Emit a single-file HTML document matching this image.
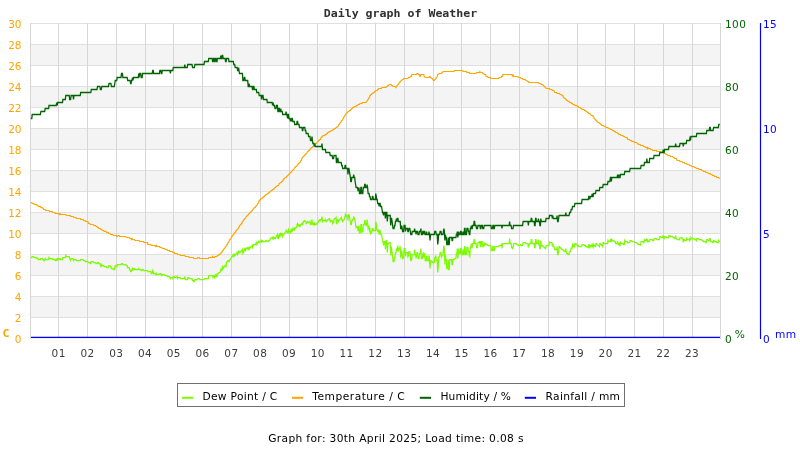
<!DOCTYPE html>
<html><head><meta charset="utf-8"><title>Daily graph of Weather</title>
<style>
html,body{margin:0;padding:0;background:#fff}
svg{display:block}
text{font-family:"DejaVu Sans","Liberation Sans",sans-serif}
.m{font-family:"DejaVu Sans Mono","Liberation Mono",monospace;font-weight:bold}
</style></head><body>
<svg width="800" height="450" viewBox="0 0 800 450">
<rect width="800" height="450" fill="#fff"/>
<g shape-rendering="crispEdges">
<rect x="31" y="45" width="689" height="20" fill="#f4f4f4"/>
<rect x="31" y="87" width="689" height="20" fill="#f4f4f4"/>
<rect x="31" y="129" width="689" height="20" fill="#f4f4f4"/>
<rect x="31" y="171" width="689" height="20" fill="#f4f4f4"/>
<rect x="31" y="213" width="689" height="20" fill="#f4f4f4"/>
<rect x="31" y="255" width="689" height="20" fill="#f4f4f4"/>
<rect x="31" y="297" width="689" height="20" fill="#f4f4f4"/>
<rect x="30" y="23" width="691" height="1" fill="#e0e0e0"/>
<rect x="30" y="44" width="691" height="1" fill="#e0e0e0"/>
<rect x="30" y="65" width="691" height="1" fill="#e0e0e0"/>
<rect x="30" y="86" width="691" height="1" fill="#e0e0e0"/>
<rect x="30" y="107" width="691" height="1" fill="#e0e0e0"/>
<rect x="30" y="128" width="691" height="1" fill="#e0e0e0"/>
<rect x="30" y="149" width="691" height="1" fill="#e0e0e0"/>
<rect x="30" y="170" width="691" height="1" fill="#e0e0e0"/>
<rect x="30" y="191" width="691" height="1" fill="#e0e0e0"/>
<rect x="30" y="212" width="691" height="1" fill="#e0e0e0"/>
<rect x="30" y="233" width="691" height="1" fill="#e0e0e0"/>
<rect x="30" y="254" width="691" height="1" fill="#e0e0e0"/>
<rect x="30" y="275" width="691" height="1" fill="#e0e0e0"/>
<rect x="30" y="296" width="691" height="1" fill="#e0e0e0"/>
<rect x="30" y="317" width="691" height="1" fill="#e0e0e0"/>
<rect x="30" y="338" width="691" height="1" fill="#e0e0e0"/>
<rect x="30" y="23" width="1" height="316" fill="#d6d6d6"/>
<rect x="58" y="23" width="1" height="316" fill="#d6d6d6"/>
<rect x="87" y="23" width="1" height="316" fill="#d6d6d6"/>
<rect x="116" y="23" width="1" height="316" fill="#d6d6d6"/>
<rect x="145" y="23" width="1" height="316" fill="#d6d6d6"/>
<rect x="173" y="23" width="1" height="316" fill="#d6d6d6"/>
<rect x="202" y="23" width="1" height="316" fill="#d6d6d6"/>
<rect x="231" y="23" width="1" height="316" fill="#d6d6d6"/>
<rect x="260" y="23" width="1" height="316" fill="#d6d6d6"/>
<rect x="289" y="23" width="1" height="316" fill="#d6d6d6"/>
<rect x="317" y="23" width="1" height="316" fill="#d6d6d6"/>
<rect x="346" y="23" width="1" height="316" fill="#d6d6d6"/>
<rect x="375" y="23" width="1" height="316" fill="#d6d6d6"/>
<rect x="404" y="23" width="1" height="316" fill="#d6d6d6"/>
<rect x="433" y="23" width="1" height="316" fill="#d6d6d6"/>
<rect x="461" y="23" width="1" height="316" fill="#d6d6d6"/>
<rect x="490" y="23" width="1" height="316" fill="#d6d6d6"/>
<rect x="519" y="23" width="1" height="316" fill="#d6d6d6"/>
<rect x="548" y="23" width="1" height="316" fill="#d6d6d6"/>
<rect x="577" y="23" width="1" height="316" fill="#d6d6d6"/>
<rect x="605" y="23" width="1" height="316" fill="#d6d6d6"/>
<rect x="634" y="23" width="1" height="316" fill="#d6d6d6"/>
<rect x="663" y="23" width="1" height="316" fill="#d6d6d6"/>
<rect x="692" y="23" width="1" height="316" fill="#d6d6d6"/>
<rect x="720" y="23" width="1" height="316" fill="#d6d6d6"/>
</g>
<polyline fill="none" stroke="#7cfc00" stroke-width="1.25" stroke-linejoin="miter" points="30.8,257.5 31.8,257.5 32.2,256.5 33.7,256.5 34.2,257.5 36.6,257.5 37.0,258.5 38.0,258.5 38.5,259.5 40.4,259.5 40.9,258.5 42.3,258.5 42.8,259.5 43.3,259.5 43.8,260.5 44.7,260.5 45.2,258.5 45.7,259.5 48.6,259.5 49.0,257.5 49.5,258.5 52.4,258.5 52.9,259.5 54.8,259.5 55.3,260.5 56.2,260.5 56.7,258.5 57.2,260.5 57.7,258.5 58.6,258.5 59.1,259.5 59.6,258.5 60.1,258.5 60.5,259.5 62.5,259.5 62.9,257.5 65.3,257.5 65.8,255.5 66.3,256.5 69.2,256.5 69.7,258.5 70.1,259.5 70.6,260.5 71.1,258.5 73.0,258.5 73.5,260.5 74.0,259.5 75.9,259.5 76.4,260.5 80.2,260.5 80.7,259.5 83.1,259.5 83.6,260.5 85.0,260.5 85.5,261.5 87.9,261.5 88.4,262.5 89.8,262.5 90.3,263.5 90.8,263.5 91.3,261.5 93.2,261.5 93.7,262.5 95.6,262.5 96.1,263.5 97.0,263.5 97.5,262.5 98.5,262.5 98.9,263.5 99.9,263.5 100.4,265.5 100.9,266.5 101.3,266.5 101.8,264.5 102.3,265.5 103.7,265.5 104.2,266.5 106.1,266.5 106.6,267.5 108.0,267.5 108.5,266.5 109.0,265.5 110.0,265.5 110.4,266.5 110.9,266.5 111.4,268.5 112.8,268.5 113.3,269.5 114.3,269.5 114.8,267.5 115.2,265.5 116.2,265.5 116.7,266.5 117.2,264.5 121.0,264.5 121.5,263.5 122.4,263.5 122.9,264.5 125.8,264.5 126.3,265.5 127.2,265.5 127.7,267.5 129.2,267.5 129.6,269.5 130.1,269.5 130.6,271.5 131.1,271.5 131.6,270.5 132.0,269.5 132.5,268.5 133.0,270.5 133.5,268.5 134.4,268.5 134.9,269.5 138.3,269.5 138.8,268.5 139.2,269.5 140.7,269.5 141.2,270.5 142.1,270.5 142.6,269.5 143.6,269.5 144.0,270.5 147.4,270.5 147.9,271.5 150.8,271.5 151.2,273.5 152.2,273.5 152.7,270.5 153.2,271.5 153.6,273.5 155.1,273.5 155.5,274.5 156.0,274.5 156.5,273.5 157.0,274.5 159.4,274.5 159.9,273.5 160.8,273.5 161.3,275.5 161.8,275.5 162.3,274.5 164.7,274.5 165.1,275.5 167.1,275.5 167.5,276.5 169.5,276.5 169.9,277.5 170.4,278.5 170.9,277.5 172.3,277.5 172.8,278.5 173.3,276.5 174.3,276.5 174.7,277.5 176.7,277.5 177.1,276.5 177.6,278.5 178.1,277.5 180.0,277.5 180.5,278.5 184.3,278.5 184.8,276.5 185.3,279.5 187.2,279.5 187.7,277.5 188.7,277.5 189.1,278.5 192.0,278.5 192.5,280.5 193.5,280.5 193.9,281.5 194.4,281.5 194.9,279.5 197.3,279.5 197.8,278.5 199.2,278.5 199.7,279.5 204.0,279.5 204.5,278.5 208.3,278.5 208.8,275.5 212.2,275.5 212.6,276.5 213.1,277.5 213.6,275.5 214.1,275.5 214.6,277.5 215.0,276.5 215.5,274.5 216.0,274.5 216.5,276.5 217.0,276.5 217.4,273.5 218.4,273.5 218.9,272.5 219.8,272.5 220.3,271.5 220.8,269.5 221.3,270.5 221.8,270.5 222.2,267.5 222.7,266.5 223.2,268.5 223.7,267.5 224.2,266.5 224.6,266.5 225.1,265.5 225.6,266.5 226.1,266.5 226.6,262.5 227.0,261.5 227.5,261.5 228.0,260.5 228.5,260.5 229.0,261.5 229.4,260.5 229.9,259.5 230.4,259.5 230.9,258.5 231.4,257.5 231.8,256.5 232.3,256.5 232.8,255.5 233.3,254.5 233.8,256.5 234.2,255.5 234.7,254.5 235.2,255.5 235.7,254.5 236.2,253.5 236.6,253.5 237.1,252.5 237.6,254.5 238.1,253.5 238.6,250.5 239.0,252.5 240.0,252.5 240.5,251.5 241.0,251.5 241.4,250.5 241.9,250.5 242.4,249.5 242.9,253.5 243.4,252.5 243.8,251.5 244.3,249.5 244.8,248.5 245.3,250.5 245.8,249.5 246.2,248.5 246.7,248.5 247.2,247.5 247.7,247.5 248.2,249.5 248.6,249.5 249.1,247.5 249.6,248.5 250.1,247.5 250.6,247.5 251.0,246.5 251.5,246.5 252.0,245.5 252.5,247.5 252.9,246.5 253.4,244.5 255.3,244.5 255.8,243.5 256.3,242.5 256.8,244.5 257.3,243.5 257.7,242.5 258.2,242.5 258.7,241.5 259.2,242.5 259.7,242.5 260.1,241.5 260.6,241.5 261.1,240.5 261.6,242.5 262.1,240.5 262.5,240.5 263.0,241.5 265.4,241.5 265.9,240.5 266.9,240.5 267.3,241.5 268.3,241.5 268.8,240.5 269.7,240.5 270.2,238.5 270.7,238.5 271.2,237.5 272.1,237.5 272.6,238.5 273.1,236.5 273.6,238.5 274.1,237.5 274.5,237.5 275.0,238.5 275.5,238.5 276.0,237.5 276.5,235.5 276.9,235.5 277.4,234.5 277.9,238.5 278.4,238.5 278.9,235.5 279.3,234.5 279.8,236.5 280.3,235.5 280.8,232.5 281.3,235.5 281.7,233.5 282.2,233.5 282.7,236.5 283.2,235.5 283.7,234.5 284.1,233.5 284.6,233.5 285.1,232.5 285.6,232.5 286.1,230.5 286.5,231.5 287.0,231.5 287.5,232.5 288.0,230.5 288.5,229.5 288.9,232.5 289.4,231.5 289.9,231.5 290.4,232.5 290.9,230.5 291.3,231.5 291.8,229.5 292.3,228.5 292.8,230.5 293.3,229.5 293.7,229.5 294.2,227.5 294.7,229.5 295.2,228.5 295.7,227.5 296.6,227.5 297.1,224.5 297.6,223.5 298.1,225.5 298.5,224.5 299.0,224.5 299.5,226.5 300.0,226.5 300.5,225.5 300.9,224.5 301.4,224.5 301.9,223.5 302.4,224.5 302.8,224.5 303.3,221.5 303.8,221.5 304.3,220.5 304.8,220.5 305.2,221.5 305.7,221.5 306.2,223.5 306.7,223.5 307.2,222.5 307.6,221.5 308.1,221.5 308.6,222.5 309.6,222.5 310.0,221.5 310.5,224.5 311.0,224.5 311.5,223.5 312.0,219.5 312.4,223.5 312.9,224.5 313.4,224.5 313.9,223.5 314.4,225.5 314.8,222.5 315.3,224.5 316.3,224.5 316.8,223.5 317.2,223.5 317.7,222.5 318.2,222.5 318.7,220.5 319.2,220.5 319.6,219.5 320.1,219.5 320.6,220.5 321.1,219.5 321.6,219.5 322.0,216.5 322.5,221.5 323.0,220.5 324.9,220.5 325.4,219.5 325.9,221.5 326.4,221.5 326.8,220.5 327.3,220.5 327.8,219.5 328.8,219.5 329.2,218.5 329.7,218.5 330.2,221.5 330.7,221.5 331.2,220.5 332.1,220.5 332.6,223.5 333.1,222.5 333.6,222.5 334.0,219.5 334.5,218.5 335.5,218.5 336.0,217.5 336.4,223.5 336.9,223.5 337.4,219.5 337.9,219.5 338.4,221.5 338.8,220.5 339.3,220.5 339.8,219.5 340.3,218.5 340.8,218.5 341.2,217.5 341.7,219.5 342.2,219.5 342.7,221.5 343.2,220.5 343.6,220.5 344.1,219.5 344.6,218.5 345.1,215.5 345.6,214.5 346.0,216.5 346.5,216.5 347.0,215.5 347.5,215.5 348.0,220.5 348.4,214.5 348.9,214.5 349.4,216.5 349.9,219.5 350.4,222.5 350.8,224.5 351.3,224.5 351.8,220.5 352.3,220.5 352.7,219.5 353.2,219.5 353.7,216.5 354.2,218.5 354.7,218.5 355.1,221.5 355.6,224.5 356.1,227.5 356.6,226.5 357.5,226.5 358.0,230.5 358.5,230.5 359.0,225.5 359.5,233.5 359.9,232.5 360.4,232.5 360.9,224.5 361.4,224.5 361.9,232.5 362.3,231.5 362.8,231.5 363.3,224.5 364.3,224.5 364.7,220.5 365.2,220.5 365.7,224.5 366.2,225.5 366.7,224.5 367.1,219.5 367.6,223.5 368.1,228.5 368.6,227.5 369.1,226.5 369.5,230.5 370.0,229.5 370.5,233.5 371.0,232.5 371.5,232.5 371.9,231.5 372.4,228.5 372.9,228.5 373.4,230.5 375.3,230.5 375.8,221.5 376.3,224.5 376.7,229.5 377.2,229.5 377.7,231.5 378.2,231.5 378.7,230.5 379.1,234.5 379.6,230.5 380.1,230.5 380.6,234.5 381.5,234.5 382.0,237.5 382.5,240.5 383.0,241.5 383.5,245.5 383.9,241.5 384.9,241.5 385.4,249.5 385.9,241.5 386.3,240.5 386.8,240.5 387.3,252.5 387.8,243.5 388.7,243.5 389.2,242.5 390.2,242.5 390.7,255.5 391.1,246.5 391.6,248.5 392.1,252.5 392.6,256.5 393.1,261.5 394.0,261.5 394.5,257.5 395.0,257.5 395.5,252.5 395.9,253.5 396.4,248.5 396.9,251.5 397.4,247.5 397.9,246.5 398.3,250.5 398.8,249.5 399.3,248.5 399.8,247.5 400.2,246.5 400.7,256.5 401.2,255.5 401.7,250.5 402.2,254.5 402.6,258.5 403.1,258.5 403.6,257.5 404.1,248.5 405.0,248.5 405.5,256.5 406.0,252.5 407.4,252.5 407.9,256.5 408.4,255.5 408.9,251.5 409.8,251.5 410.3,254.5 410.8,260.5 411.3,260.5 411.8,259.5 412.2,254.5 414.2,254.5 414.6,249.5 415.1,254.5 415.6,254.5 416.1,258.5 416.6,254.5 417.0,252.5 417.5,252.5 418.0,257.5 418.5,258.5 419.0,258.5 419.4,253.5 420.4,253.5 420.9,248.5 421.4,258.5 422.3,258.5 422.8,254.5 423.3,253.5 423.8,257.5 424.2,253.5 424.7,253.5 425.2,260.5 426.2,260.5 426.6,255.5 427.1,260.5 428.6,260.5 429.0,255.5 429.5,259.5 430.0,268.5 430.5,260.5 431.0,260.5 431.4,261.5 432.4,261.5 432.9,262.5 434.3,262.5 434.8,257.5 435.3,257.5 435.8,255.5 436.2,260.5 436.7,260.5 437.2,259.5 437.7,272.5 438.2,267.5 438.6,257.5 439.1,256.5 439.6,256.5 440.1,252.5 441.0,252.5 441.5,256.5 442.0,255.5 442.5,255.5 443.0,254.5 443.4,249.5 443.9,245.5 444.4,249.5 444.9,264.5 445.4,254.5 445.8,259.5 446.3,259.5 446.8,268.5 447.8,268.5 448.2,259.5 448.7,269.5 449.2,269.5 449.7,259.5 451.6,259.5 452.1,264.5 452.5,264.5 453.0,259.5 454.0,259.5 454.5,258.5 455.9,258.5 456.4,253.5 456.9,253.5 457.3,248.5 457.8,258.5 458.3,253.5 458.8,248.5 459.3,253.5 460.2,253.5 460.7,248.5 461.2,248.5 461.7,254.5 462.6,254.5 463.1,249.5 463.6,254.5 464.1,254.5 464.5,246.5 465.0,246.5 465.5,254.5 466.5,254.5 466.9,247.5 467.9,247.5 468.4,251.5 468.9,251.5 469.3,255.5 469.8,256.5 470.3,247.5 470.8,247.5 471.3,243.5 471.7,247.5 472.2,247.5 472.7,243.5 473.7,243.5 474.1,239.5 474.6,239.5 475.1,243.5 476.1,243.5 476.5,247.5 477.5,247.5 478.0,242.5 478.9,242.5 479.4,241.5 479.9,241.5 480.4,246.5 480.9,246.5 481.3,241.5 482.3,241.5 482.8,246.5 483.7,246.5 484.2,243.5 484.7,244.5 485.2,243.5 485.7,243.5 486.1,244.5 487.6,244.5 488.1,245.5 490.5,245.5 490.9,246.5 491.4,250.5 492.4,250.5 492.9,246.5 493.3,246.5 493.8,250.5 494.3,250.5 494.8,246.5 498.6,246.5 499.1,245.5 501.0,245.5 501.5,244.5 502.0,248.5 502.4,244.5 502.9,243.5 509.2,243.5 509.6,238.5 510.1,243.5 511.1,243.5 511.6,247.5 512.0,247.5 512.5,248.5 513.0,247.5 513.5,244.5 514.0,243.5 516.4,243.5 516.8,244.5 517.8,244.5 518.3,245.5 519.7,245.5 520.2,244.5 520.7,244.5 521.2,245.5 522.6,245.5 523.1,242.5 525.5,242.5 526.0,243.5 527.9,243.5 528.4,247.5 528.8,244.5 529.3,244.5 529.8,243.5 530.8,243.5 531.2,239.5 531.7,239.5 532.2,243.5 534.1,243.5 534.6,247.5 535.1,247.5 535.6,239.5 536.0,239.5 536.5,243.5 538.0,243.5 538.4,239.5 538.9,244.5 539.4,244.5 539.9,248.5 540.4,248.5 540.8,240.5 541.3,245.5 542.8,245.5 543.2,246.5 543.7,246.5 544.2,247.5 544.7,247.5 545.2,248.5 545.6,248.5 546.1,245.5 549.0,245.5 549.5,241.5 549.9,242.5 551.9,242.5 552.3,246.5 552.8,243.5 553.3,246.5 553.8,246.5 554.3,247.5 554.7,249.5 556.7,249.5 557.1,246.5 557.6,254.5 558.1,254.5 558.6,250.5 559.1,246.5 559.5,246.5 560.0,247.5 560.5,247.5 561.0,248.5 561.5,248.5 561.9,249.5 562.9,249.5 563.4,250.5 563.9,250.5 564.3,251.5 565.3,251.5 565.8,248.5 566.3,252.5 566.7,253.5 567.7,253.5 568.2,254.5 569.1,254.5 569.6,251.5 570.6,251.5 571.1,247.5 571.5,248.5 572.0,248.5 572.5,244.5 573.0,245.5 573.5,246.5 573.9,245.5 574.4,246.5 574.9,243.5 575.9,243.5 576.3,244.5 576.8,244.5 577.3,245.5 578.3,245.5 578.7,246.5 581.6,246.5 582.1,244.5 584.0,244.5 584.5,245.5 585.5,245.5 585.9,246.5 586.9,246.5 587.4,247.5 588.3,247.5 588.8,244.5 589.3,244.5 589.8,248.5 590.3,245.5 590.7,245.5 591.2,246.5 591.7,246.5 592.2,243.5 592.7,246.5 593.1,247.5 593.6,244.5 594.1,245.5 594.6,245.5 595.1,246.5 595.5,246.5 596.0,243.5 596.5,243.5 597.0,244.5 597.4,244.5 597.9,245.5 598.9,245.5 599.4,246.5 599.8,243.5 600.3,243.5 600.8,244.5 601.3,244.5 601.8,245.5 602.2,245.5 602.7,246.5 603.2,242.5 603.7,242.5 604.2,243.5 607.5,243.5 608.0,240.5 608.5,241.5 609.9,241.5 610.4,239.5 610.9,239.5 611.4,242.5 611.8,239.5 612.3,240.5 613.8,240.5 614.2,241.5 615.2,241.5 615.7,243.5 617.1,243.5 617.6,241.5 618.1,244.5 618.6,244.5 619.0,242.5 619.5,245.5 620.0,245.5 620.5,242.5 621.0,243.5 622.9,243.5 623.4,244.5 624.3,244.5 624.8,240.5 625.3,241.5 627.2,241.5 627.7,242.5 629.6,242.5 630.1,240.5 631.5,240.5 632.0,241.5 633.9,241.5 634.4,242.5 636.8,242.5 637.3,243.5 637.8,243.5 638.2,244.5 640.2,244.5 640.6,245.5 641.1,241.5 643.0,241.5 643.5,242.5 644.0,242.5 644.5,239.5 645.0,239.5 645.4,240.5 646.4,240.5 646.9,238.5 647.3,241.5 647.8,240.5 648.3,241.5 649.3,241.5 649.7,239.5 652.1,239.5 652.6,240.5 653.6,240.5 654.1,238.5 656.5,238.5 656.9,239.5 659.3,239.5 659.8,236.5 660.8,236.5 661.3,237.5 662.7,237.5 663.2,235.5 663.7,237.5 664.1,238.5 664.6,236.5 665.6,236.5 666.1,237.5 668.5,237.5 668.9,235.5 669.9,235.5 670.4,236.5 672.8,236.5 673.3,237.5 674.2,237.5 674.7,238.5 675.2,238.5 675.7,235.5 676.1,238.5 676.6,238.5 677.1,239.5 679.5,239.5 680.0,237.5 681.9,237.5 682.4,238.5 682.9,238.5 683.3,242.5 683.8,239.5 684.3,239.5 684.8,240.5 686.2,240.5 686.7,238.5 687.2,239.5 689.1,239.5 689.6,240.5 690.1,237.5 690.5,240.5 691.0,237.5 691.5,238.5 693.9,238.5 694.4,239.5 695.8,239.5 696.3,240.5 696.8,238.5 698.7,238.5 699.2,239.5 701.6,239.5 702.0,240.5 703.0,240.5 703.5,241.5 705.4,241.5 705.9,242.5 706.4,242.5 706.8,239.5 707.8,239.5 708.3,240.5 709.2,240.5 709.7,238.5 710.2,238.5 710.7,241.5 712.1,241.5 712.6,242.5 713.1,242.5 713.6,240.5 714.0,240.5 714.5,241.5 716.4,241.5 716.9,242.5 718.4,242.5 718.8,240.5 719.3,241.5 719.8,241.5"/>
<polyline fill="none" stroke="#ffa500" stroke-width="1.2" stroke-linejoin="miter" points="30.8,202.5 31.8,202.5 32.2,203.5 33.7,203.5 34.2,204.5 36.6,204.5 37.0,205.5 38.0,205.5 38.5,206.5 40.4,206.5 40.9,207.5 42.3,207.5 42.8,208.5 43.3,208.5 43.8,209.5 45.2,209.5 45.7,210.5 49.0,210.5 49.5,211.5 52.4,211.5 52.9,212.5 54.8,212.5 55.3,213.5 58.6,213.5 59.1,214.5 59.6,213.5 60.1,213.5 60.5,214.5 65.8,214.5 66.3,215.5 70.1,215.5 70.6,216.5 73.5,216.5 74.0,217.5 75.9,217.5 76.4,218.5 80.2,218.5 80.7,219.5 83.1,219.5 83.6,220.5 85.0,220.5 85.5,221.5 87.9,221.5 88.4,223.5 89.8,223.5 90.3,224.5 93.2,224.5 93.7,225.5 95.6,225.5 96.1,226.5 97.0,226.5 97.5,227.5 98.5,227.5 98.9,228.5 100.4,228.5 100.9,229.5 101.8,229.5 102.3,230.5 103.7,230.5 104.2,231.5 106.1,231.5 106.6,232.5 108.5,232.5 109.0,233.5 110.0,233.5 110.4,234.5 112.8,234.5 113.3,235.5 116.2,235.5 116.7,236.5 117.6,236.5 118.1,235.5 119.1,235.5 119.6,236.5 125.8,236.5 126.3,237.5 129.2,237.5 129.6,238.5 131.1,238.5 131.6,239.5 132.0,238.5 132.5,239.5 134.4,239.5 134.9,240.5 139.2,240.5 139.7,241.5 143.6,241.5 144.0,242.5 147.4,242.5 147.9,244.5 150.8,244.5 151.2,245.5 155.1,245.5 155.5,246.5 156.0,246.5 156.5,245.5 157.0,246.5 159.4,246.5 159.9,247.5 161.8,247.5 162.3,248.5 164.7,248.5 165.1,249.5 167.1,249.5 167.5,250.5 169.5,250.5 169.9,251.5 172.3,251.5 172.8,252.5 174.3,252.5 174.7,253.5 177.1,253.5 177.6,254.5 180.0,254.5 180.5,255.5 184.8,255.5 185.3,256.5 188.7,256.5 189.1,257.5 193.5,257.5 193.9,258.5 197.3,258.5 197.8,257.5 199.2,257.5 199.7,258.5 208.3,258.5 208.8,257.5 212.2,257.5 212.6,256.5 213.1,257.5 214.6,257.5 215.0,256.5 217.0,256.5 217.4,255.5 218.4,255.5 218.9,254.5 219.8,254.5 220.3,253.5 220.8,253.5 221.3,252.5 221.8,252.5 222.2,251.5 222.7,250.5 223.2,250.5 223.7,249.5 224.2,248.5 224.6,248.5 225.1,247.5 225.6,246.5 226.1,246.5 226.6,245.5 227.0,244.5 227.5,244.5 228.0,242.5 228.5,242.5 229.0,241.5 229.4,240.5 229.9,239.5 230.4,239.5 230.9,238.5 231.4,237.5 231.8,236.5 232.3,236.5 232.8,235.5 233.3,234.5 233.8,234.5 234.2,233.5 234.7,232.5 235.2,232.5 235.7,231.5 236.2,230.5 236.6,230.5 237.1,229.5 237.6,229.5 238.1,228.5 238.6,227.5 239.0,227.5 239.5,225.5 240.0,225.5 240.5,224.5 241.0,224.5 241.4,223.5 241.9,223.5 242.4,221.5 242.9,221.5 243.4,220.5 243.8,219.5 244.3,219.5 244.8,218.5 245.3,218.5 245.8,217.5 246.2,216.5 246.7,216.5 247.2,215.5 247.7,215.5 248.2,214.5 248.6,214.5 249.1,213.5 249.6,213.5 250.1,212.5 250.6,212.5 251.0,211.5 251.5,211.5 252.0,210.5 252.5,210.5 252.9,209.5 253.4,208.5 253.9,208.5 254.4,207.5 255.3,207.5 255.8,206.5 256.3,205.5 256.8,205.5 257.3,204.5 257.7,203.5 258.2,203.5 258.7,202.5 259.2,200.5 259.7,200.5 260.1,199.5 260.6,199.5 261.1,198.5 262.1,198.5 262.5,197.5 263.0,197.5 263.5,196.5 264.5,196.5 264.9,195.5 265.4,195.5 265.9,194.5 266.9,194.5 267.3,193.5 268.3,193.5 268.8,192.5 269.7,192.5 270.2,191.5 270.7,191.5 271.2,190.5 272.1,190.5 272.6,189.5 273.6,189.5 274.1,188.5 274.5,188.5 275.0,187.5 275.5,187.5 276.0,186.5 276.9,186.5 277.4,185.5 278.4,185.5 278.9,184.5 279.3,183.5 279.8,183.5 280.3,182.5 281.3,182.5 281.7,181.5 282.7,181.5 283.2,179.5 283.7,179.5 284.1,178.5 284.6,178.5 285.1,177.5 286.1,177.5 286.5,176.5 287.0,176.5 287.5,175.5 288.0,175.5 288.5,174.5 288.9,174.5 289.4,173.5 289.9,173.5 290.4,172.5 290.9,172.5 291.3,171.5 291.8,171.5 292.3,170.5 292.8,170.5 293.3,169.5 293.7,169.5 294.2,168.5 294.7,167.5 295.2,167.5 295.7,166.5 296.6,166.5 297.1,165.5 297.6,164.5 298.1,164.5 298.5,163.5 299.0,163.5 299.5,162.5 300.0,162.5 300.5,161.5 300.9,160.5 301.4,160.5 301.9,158.5 302.4,157.5 302.8,157.5 303.3,156.5 303.8,156.5 304.3,155.5 304.8,155.5 305.2,154.5 305.7,154.5 306.2,153.5 306.7,153.5 307.2,152.5 307.6,151.5 308.1,151.5 308.6,150.5 309.6,150.5 310.0,149.5 310.5,148.5 311.0,148.5 311.5,147.5 312.4,147.5 312.9,146.5 313.4,146.5 313.9,145.5 314.4,144.5 314.8,144.5 315.3,143.5 316.3,143.5 316.8,142.5 317.2,142.5 317.7,141.5 318.2,141.5 318.7,140.5 319.2,140.5 319.6,139.5 320.6,139.5 321.1,137.5 321.6,137.5 322.0,136.5 322.5,136.5 323.0,135.5 324.9,135.5 325.4,134.5 326.4,134.5 326.8,133.5 327.3,133.5 327.8,132.5 328.8,132.5 329.2,131.5 330.7,131.5 331.2,130.5 332.6,130.5 333.1,129.5 334.0,129.5 334.5,128.5 335.5,128.5 336.0,127.5 336.9,127.5 337.4,126.5 337.9,126.5 338.4,125.5 338.8,124.5 339.3,124.5 339.8,123.5 340.3,122.5 340.8,122.5 341.2,121.5 341.7,120.5 342.2,120.5 342.7,119.5 343.2,118.5 343.6,118.5 344.1,116.5 344.6,115.5 345.1,115.5 345.6,114.5 346.0,113.5 346.5,113.5 347.0,112.5 347.5,112.5 348.0,111.5 348.9,111.5 349.4,110.5 350.4,110.5 350.8,109.5 351.3,109.5 351.8,108.5 352.3,108.5 352.7,107.5 353.7,107.5 354.2,106.5 356.1,106.5 356.6,105.5 357.5,105.5 358.0,104.5 359.5,104.5 359.9,103.5 361.9,103.5 362.3,102.5 366.2,102.5 366.7,101.5 367.1,100.5 367.6,100.5 368.1,99.5 368.6,98.5 369.1,97.5 369.5,97.5 370.0,95.5 370.5,95.5 371.0,94.5 371.5,94.5 371.9,93.5 372.9,93.5 373.4,92.5 374.3,92.5 374.8,91.5 375.3,91.5 375.8,90.5 377.2,90.5 377.7,89.5 378.2,89.5 378.7,88.5 381.5,88.5 382.0,87.5 385.9,87.5 386.3,86.5 387.3,86.5 387.8,85.5 388.7,85.5 389.2,84.5 391.1,84.5 391.6,85.5 392.6,85.5 393.1,86.5 395.5,86.5 395.9,87.5 396.4,86.5 396.9,85.5 397.4,85.5 397.9,84.5 398.3,84.5 398.8,83.5 399.3,82.5 399.8,82.5 400.2,81.5 400.7,81.5 401.2,80.5 401.7,80.5 402.2,79.5 403.1,79.5 403.6,78.5 407.9,78.5 408.4,77.5 409.8,77.5 410.3,76.5 411.3,76.5 411.8,74.5 416.6,74.5 417.0,73.5 418.0,73.5 418.5,74.5 419.4,74.5 419.9,76.5 420.4,76.5 420.9,74.5 423.8,74.5 424.2,76.5 424.7,76.5 425.2,77.5 429.0,77.5 429.5,76.5 430.0,76.5 430.5,77.5 431.0,77.5 431.4,78.5 432.4,78.5 432.9,79.5 433.4,80.5 434.3,80.5 434.8,79.5 435.3,79.5 435.8,78.5 436.2,77.5 436.7,77.5 437.2,76.5 437.7,74.5 438.6,74.5 439.1,73.5 441.5,73.5 442.0,72.5 442.5,72.5 443.0,71.5 454.0,71.5 454.5,70.5 462.6,70.5 463.1,71.5 466.5,71.5 466.9,72.5 469.3,72.5 469.8,73.5 476.1,73.5 476.5,72.5 479.4,72.5 479.9,71.5 480.4,72.5 482.3,72.5 482.8,73.5 483.7,73.5 484.2,74.5 485.7,74.5 486.1,76.5 487.6,76.5 488.1,77.5 490.5,77.5 490.9,78.5 498.6,78.5 499.1,77.5 501.0,77.5 501.5,76.5 502.4,76.5 502.9,74.5 512.0,74.5 512.5,76.5 513.0,74.5 513.5,76.5 517.8,76.5 518.3,77.5 520.7,77.5 521.2,78.5 522.6,78.5 523.1,79.5 525.5,79.5 526.0,80.5 526.9,80.5 527.4,81.5 528.4,81.5 528.8,82.5 538.4,82.5 538.9,83.5 540.8,83.5 541.3,84.5 542.8,84.5 543.2,85.5 543.7,85.5 544.2,86.5 544.7,86.5 545.2,87.5 545.6,87.5 546.1,88.5 549.5,88.5 549.9,89.5 551.9,89.5 552.3,90.5 553.8,90.5 554.3,91.5 554.7,92.5 556.7,92.5 557.1,93.5 559.5,93.5 560.0,94.5 561.5,94.5 561.9,95.5 562.9,95.5 563.4,97.5 563.9,97.5 564.3,98.5 565.3,98.5 565.8,99.5 566.3,99.5 566.7,100.5 567.7,100.5 568.2,101.5 569.1,101.5 569.6,102.5 571.1,102.5 571.5,103.5 572.5,103.5 573.0,104.5 574.4,104.5 574.9,105.5 576.8,105.5 577.3,106.5 578.3,106.5 578.7,107.5 580.2,107.5 580.7,108.5 581.6,108.5 582.1,109.5 584.0,109.5 584.5,110.5 585.5,110.5 585.9,111.5 586.9,111.5 587.4,112.5 588.3,112.5 588.8,113.5 589.8,113.5 590.3,114.5 590.7,114.5 591.2,115.5 592.7,115.5 593.1,116.5 593.6,116.5 594.1,118.5 594.6,118.5 595.1,119.5 595.5,119.5 596.0,120.5 596.5,120.5 597.0,121.5 597.4,121.5 597.9,122.5 598.9,122.5 599.4,123.5 600.3,123.5 600.8,124.5 601.3,124.5 601.8,125.5 603.7,125.5 604.2,126.5 605.6,126.5 606.1,127.5 608.0,127.5 608.5,128.5 609.9,128.5 610.4,129.5 611.8,129.5 612.3,130.5 613.8,130.5 614.2,131.5 615.2,131.5 615.7,132.5 617.1,132.5 617.6,133.5 618.6,133.5 619.0,134.5 620.5,134.5 621.0,135.5 622.9,135.5 623.4,136.5 624.8,136.5 625.3,137.5 627.2,137.5 627.7,139.5 629.6,139.5 630.1,140.5 631.5,140.5 632.0,141.5 633.9,141.5 634.4,142.5 636.8,142.5 637.3,143.5 637.8,143.5 638.2,144.5 640.2,144.5 640.6,145.5 643.0,145.5 643.5,146.5 645.0,146.5 645.4,147.5 646.9,147.5 647.3,148.5 647.8,147.5 648.3,148.5 650.2,148.5 650.7,149.5 652.1,149.5 652.6,150.5 656.5,150.5 656.9,151.5 660.8,151.5 661.3,152.5 663.7,152.5 664.1,153.5 665.6,153.5 666.1,154.5 667.5,154.5 668.0,155.5 669.9,155.5 670.4,156.5 672.8,156.5 673.3,157.5 674.2,157.5 674.7,158.5 676.6,158.5 677.1,160.5 679.5,160.5 680.0,161.5 681.9,161.5 682.4,162.5 684.3,162.5 684.8,163.5 686.7,163.5 687.2,164.5 689.1,164.5 689.6,165.5 691.0,165.5 691.5,166.5 693.9,166.5 694.4,167.5 695.8,167.5 696.3,168.5 698.7,168.5 699.2,169.5 701.6,169.5 702.0,170.5 703.0,170.5 703.5,171.5 705.4,171.5 705.9,172.5 707.8,172.5 708.3,173.5 710.2,173.5 710.7,174.5 712.1,174.5 712.6,175.5 714.0,175.5 714.5,176.5 716.4,176.5 716.9,177.5 718.8,177.5 719.3,178.5 719.8,178.5"/>
<polyline fill="none" stroke="#006400" stroke-width="1.3" stroke-linejoin="miter" points="30.8,118.5 31.8,118.5 32.2,114.5 40.4,114.5 40.9,111.5 44.7,111.5 45.2,108.5 48.6,108.5 49.0,105.5 56.2,105.5 56.7,102.5 57.2,105.5 57.7,102.5 62.5,102.5 62.9,99.5 65.3,99.5 65.8,95.5 69.2,95.5 69.7,99.5 70.6,99.5 71.1,95.5 73.0,95.5 73.5,99.5 74.0,95.5 80.2,95.5 80.7,92.5 90.8,92.5 91.3,89.5 97.0,89.5 97.5,86.5 99.9,86.5 100.4,89.5 101.3,89.5 101.8,86.5 108.5,86.5 109.0,83.5 110.9,83.5 111.4,86.5 114.3,86.5 114.8,83.5 115.2,80.5 116.7,80.5 117.2,77.5 121.0,77.5 121.5,73.5 122.4,73.5 122.9,77.5 127.2,77.5 127.7,80.5 130.1,80.5 130.6,83.5 131.1,83.5 131.6,80.5 132.0,80.5 132.5,77.5 133.0,80.5 133.5,77.5 138.3,77.5 138.8,73.5 139.2,77.5 139.7,73.5 140.7,73.5 141.2,77.5 142.1,77.5 142.6,73.5 152.2,73.5 152.7,70.5 153.2,70.5 153.6,73.5 159.4,73.5 159.9,70.5 160.8,70.5 161.3,73.5 161.8,73.5 162.3,70.5 169.9,70.5 170.4,73.5 170.9,70.5 172.8,70.5 173.3,67.5 184.3,67.5 184.8,64.5 185.3,67.5 187.2,67.5 187.7,64.5 192.0,64.5 192.5,67.5 194.4,67.5 194.9,64.5 204.0,64.5 204.5,61.5 208.3,61.5 208.8,58.5 212.2,58.5 212.6,61.5 213.1,61.5 213.6,58.5 214.1,58.5 214.6,61.5 215.0,61.5 215.5,58.5 216.0,58.5 216.5,61.5 217.0,61.5 217.4,58.5 220.3,58.5 220.8,55.5 221.3,58.5 221.8,58.5 222.2,55.5 222.7,55.5 223.2,58.5 225.1,58.5 225.6,61.5 226.1,61.5 226.6,58.5 228.5,58.5 229.0,61.5 233.3,61.5 233.8,64.5 234.7,64.5 235.2,67.5 237.1,67.5 237.6,70.5 238.1,70.5 238.6,67.5 239.0,70.5 239.5,73.5 242.4,73.5 242.9,80.5 243.8,80.5 244.3,77.5 244.8,77.5 245.3,80.5 247.7,80.5 248.2,86.5 248.6,86.5 249.1,83.5 249.6,86.5 252.0,86.5 252.5,89.5 252.9,89.5 253.4,86.5 253.9,86.5 254.4,89.5 256.3,89.5 256.8,92.5 258.7,92.5 259.2,95.5 261.1,95.5 261.6,99.5 262.1,95.5 263.0,95.5 263.5,99.5 266.9,99.5 267.3,102.5 272.1,102.5 272.6,105.5 273.1,102.5 273.6,105.5 274.5,105.5 275.0,108.5 276.0,108.5 276.5,105.5 277.4,105.5 277.9,111.5 278.4,111.5 278.9,108.5 279.3,108.5 279.8,111.5 280.3,111.5 280.8,108.5 281.3,111.5 282.2,111.5 282.7,114.5 285.6,114.5 286.1,111.5 286.5,114.5 287.0,114.5 287.5,118.5 288.0,114.5 288.5,114.5 288.9,118.5 289.9,118.5 290.4,121.5 290.9,118.5 291.3,121.5 291.8,118.5 292.3,118.5 292.8,121.5 294.2,121.5 294.7,124.5 296.6,124.5 297.1,121.5 297.6,121.5 298.1,124.5 299.0,124.5 299.5,127.5 301.9,127.5 302.4,130.5 302.8,130.5 303.3,127.5 304.8,127.5 305.2,130.5 305.7,130.5 306.2,133.5 308.1,133.5 308.6,136.5 310.0,136.5 310.5,140.5 311.5,140.5 312.0,136.5 312.4,140.5 312.9,143.5 313.9,143.5 314.4,146.5 314.8,143.5 315.3,146.5 321.6,146.5 322.0,143.5 322.5,149.5 325.4,149.5 325.9,152.5 329.7,152.5 330.2,155.5 332.1,155.5 332.6,158.5 333.6,158.5 334.0,155.5 336.0,155.5 336.4,162.5 336.9,162.5 337.4,158.5 337.9,158.5 338.4,162.5 341.2,162.5 341.7,165.5 342.2,165.5 342.7,168.5 344.6,168.5 345.1,165.5 345.6,165.5 346.0,168.5 347.5,168.5 348.0,174.5 348.4,168.5 348.9,168.5 349.4,171.5 349.9,174.5 350.4,177.5 350.8,181.5 351.3,181.5 351.8,177.5 353.2,177.5 353.7,174.5 354.2,177.5 354.7,177.5 355.1,181.5 355.6,184.5 356.1,187.5 357.5,187.5 358.0,190.5 358.5,190.5 359.0,187.5 359.5,193.5 360.4,193.5 360.9,187.5 361.4,187.5 361.9,193.5 362.8,193.5 363.3,187.5 364.3,187.5 364.7,184.5 365.2,184.5 365.7,187.5 366.7,187.5 367.1,184.5 367.6,187.5 368.1,193.5 369.1,193.5 369.5,196.5 370.0,196.5 370.5,199.5 371.9,199.5 372.4,196.5 372.9,196.5 373.4,199.5 375.3,199.5 375.8,193.5 376.3,196.5 376.7,199.5 377.2,199.5 377.7,203.5 378.7,203.5 379.1,206.5 379.6,203.5 380.1,203.5 380.6,206.5 381.5,206.5 382.0,209.5 382.5,212.5 383.0,212.5 383.5,215.5 383.9,212.5 384.9,212.5 385.4,218.5 385.9,212.5 386.8,212.5 387.3,221.5 387.8,215.5 390.2,215.5 390.7,225.5 391.1,218.5 391.6,218.5 392.1,221.5 392.6,225.5 393.1,228.5 394.0,228.5 394.5,225.5 395.0,225.5 395.5,221.5 395.9,221.5 396.4,218.5 396.9,221.5 397.4,218.5 397.9,218.5 398.3,221.5 400.2,221.5 400.7,228.5 401.2,228.5 401.7,225.5 402.2,228.5 402.6,231.5 403.6,231.5 404.1,225.5 405.0,225.5 405.5,231.5 406.0,228.5 407.4,228.5 407.9,231.5 408.4,231.5 408.9,228.5 409.8,228.5 410.3,231.5 410.8,234.5 411.8,234.5 412.2,231.5 414.2,231.5 414.6,228.5 415.1,231.5 415.6,231.5 416.1,234.5 416.6,231.5 417.5,231.5 418.0,234.5 419.0,234.5 419.4,231.5 420.4,231.5 420.9,228.5 421.4,234.5 422.3,234.5 422.8,231.5 423.3,231.5 423.8,234.5 424.2,231.5 424.7,231.5 425.2,234.5 426.2,234.5 426.6,231.5 427.1,234.5 428.6,234.5 429.0,231.5 429.5,234.5 430.0,240.5 430.5,234.5 434.3,234.5 434.8,231.5 435.8,231.5 436.2,234.5 437.2,234.5 437.7,244.5 438.2,240.5 438.6,234.5 439.6,234.5 440.1,231.5 441.0,231.5 441.5,234.5 443.0,234.5 443.4,231.5 443.9,228.5 444.4,231.5 444.9,240.5 445.4,234.5 445.8,237.5 446.3,237.5 446.8,244.5 447.8,244.5 448.2,237.5 448.7,244.5 449.2,244.5 449.7,237.5 451.6,237.5 452.1,240.5 452.5,240.5 453.0,237.5 455.9,237.5 456.4,234.5 456.9,234.5 457.3,231.5 457.8,237.5 458.3,234.5 458.8,231.5 459.3,234.5 460.2,234.5 460.7,231.5 461.2,231.5 461.7,234.5 462.6,234.5 463.1,231.5 463.6,234.5 464.1,234.5 464.5,228.5 465.0,228.5 465.5,234.5 466.5,234.5 466.9,228.5 467.9,228.5 468.4,231.5 468.9,231.5 469.3,234.5 469.8,234.5 470.3,228.5 470.8,228.5 471.3,225.5 471.7,228.5 472.2,228.5 472.7,225.5 473.7,225.5 474.1,221.5 474.6,221.5 475.1,225.5 476.1,225.5 476.5,228.5 477.5,228.5 478.0,225.5 479.9,225.5 480.4,228.5 480.9,228.5 481.3,225.5 482.3,225.5 482.8,228.5 483.7,228.5 484.2,225.5 490.9,225.5 491.4,228.5 492.4,228.5 492.9,225.5 493.3,225.5 493.8,228.5 494.3,228.5 494.8,225.5 501.5,225.5 502.0,228.5 502.4,225.5 509.2,225.5 509.6,221.5 510.1,225.5 511.1,225.5 511.6,228.5 513.0,228.5 513.5,225.5 522.6,225.5 523.1,221.5 527.9,221.5 528.4,225.5 528.8,221.5 530.8,221.5 531.2,218.5 531.7,218.5 532.2,221.5 534.1,221.5 534.6,225.5 535.1,225.5 535.6,218.5 536.0,218.5 536.5,221.5 538.0,221.5 538.4,218.5 538.9,221.5 539.4,221.5 539.9,225.5 540.4,225.5 540.8,218.5 541.3,221.5 545.6,221.5 546.1,218.5 549.0,218.5 549.5,215.5 551.9,215.5 552.3,218.5 552.8,215.5 553.3,218.5 556.7,218.5 557.1,215.5 557.6,221.5 558.1,221.5 558.6,218.5 559.1,215.5 565.3,215.5 565.8,212.5 566.3,215.5 569.1,215.5 569.6,212.5 570.6,212.5 571.1,209.5 572.0,209.5 572.5,206.5 574.4,206.5 574.9,203.5 581.6,203.5 582.1,199.5 588.3,199.5 588.8,196.5 589.3,196.5 589.8,199.5 590.3,196.5 591.7,196.5 592.2,193.5 592.7,196.5 593.1,196.5 593.6,193.5 595.5,193.5 596.0,190.5 599.4,190.5 599.8,187.5 602.7,187.5 603.2,184.5 607.5,184.5 608.0,181.5 609.9,181.5 610.4,177.5 610.9,177.5 611.4,181.5 611.8,177.5 617.1,177.5 617.6,174.5 618.1,177.5 618.6,177.5 619.0,174.5 619.5,177.5 620.0,177.5 620.5,174.5 624.3,174.5 624.8,171.5 629.6,171.5 630.1,168.5 640.6,168.5 641.1,165.5 644.0,165.5 644.5,162.5 646.4,162.5 646.9,158.5 647.3,162.5 649.3,162.5 649.7,158.5 653.6,158.5 654.1,155.5 659.3,155.5 659.8,152.5 662.7,152.5 663.2,149.5 663.7,152.5 664.1,152.5 664.6,149.5 668.5,149.5 668.9,146.5 675.2,146.5 675.7,143.5 676.1,146.5 679.5,146.5 680.0,143.5 682.9,143.5 683.3,146.5 683.8,143.5 686.2,143.5 686.7,140.5 689.6,140.5 690.1,136.5 690.5,140.5 691.0,136.5 696.3,136.5 696.8,133.5 706.4,133.5 706.8,130.5 709.2,130.5 709.7,127.5 710.2,127.5 710.7,130.5 713.1,130.5 713.6,127.5 718.4,127.5 718.8,124.5 719.8,124.5"/>
<g shape-rendering="crispEdges"><rect x="31" y="338" width="689" height="1" fill="#f2f2ea"/><rect x="31" y="337" width="689" height="1" fill="#0000ff"/><rect x="31" y="336" width="689" height="1" fill="#0000ff" opacity="0.25"/></g>
<line x1="760.5" y1="23" x2="760.5" y2="339" stroke="#0000ff" stroke-width="1.2"/>
<g font-size="10.5" fill="#ffa500" text-anchor="end">
<text x="21.5" y="27.7">30</text>
<text x="21.5" y="48.7">28</text>
<text x="21.5" y="69.7">26</text>
<text x="21.5" y="90.7">24</text>
<text x="21.5" y="111.7">22</text>
<text x="21.5" y="132.7">20</text>
<text x="21.5" y="153.7">18</text>
<text x="21.5" y="174.7">16</text>
<text x="21.5" y="195.7">14</text>
<text x="21.5" y="216.7">12</text>
<text x="21.5" y="237.7">10</text>
<text x="21.5" y="258.7">8</text>
<text x="21.5" y="279.7">6</text>
<text x="21.5" y="300.7">4</text>
<text x="21.5" y="321.7">2</text>
<text x="21.5" y="342.7">0</text>
</g>
<g font-size="10.5" fill="#006400" text-anchor="start" letter-spacing="0.4">
<text x="725" y="27.7">100</text>
<text x="725" y="90.7">80</text>
<text x="725" y="153.7">60</text>
<text x="725" y="216.7">40</text>
<text x="725" y="279.7">20</text>
<text x="725" y="342.7">0</text>
</g>
<g font-size="10.5" fill="#0000ff" text-anchor="start" letter-spacing="0.4">
<text x="763" y="27.7">15</text>
<text x="763" y="132.7">10</text>
<text x="763" y="237.7">5</text>
<text x="763" y="342.7">0</text>
</g>
<g font-size="10.5" fill="#3c3c3c" text-anchor="middle" letter-spacing="0.4">
<text x="58.7" y="357">01</text>
<text x="87.5" y="357">02</text>
<text x="116.3" y="357">03</text>
<text x="145.1" y="357">04</text>
<text x="173.8" y="357">05</text>
<text x="202.6" y="357">06</text>
<text x="231.4" y="357">07</text>
<text x="260.2" y="357">08</text>
<text x="289.0" y="357">09</text>
<text x="317.8" y="357">10</text>
<text x="346.6" y="357">11</text>
<text x="375.4" y="357">12</text>
<text x="404.2" y="357">13</text>
<text x="433.0" y="357">14</text>
<text x="461.7" y="357">15</text>
<text x="490.5" y="357">16</text>
<text x="519.3" y="357">17</text>
<text x="548.1" y="357">18</text>
<text x="576.9" y="357">19</text>
<text x="605.7" y="357">20</text>
<text x="634.5" y="357">21</text>
<text x="663.3" y="357">22</text>
<text x="692.1" y="357">23</text>
</g>
<text class="m" transform="translate(400.5,16.8) scale(1,0.89)" x="0" y="0" font-size="11.6" fill="#303030" text-anchor="middle">Daily graph of Weather</text>
<text class="m" transform="translate(6,337) scale(1,0.89)" x="0" y="0" font-size="11.6" fill="#ffa500" text-anchor="middle">C</text>
<text x="734.8" y="338" font-size="10.67" fill="#006400">%</text>
<text x="775" y="338" font-size="10.67" letter-spacing="0.35" fill="#0000ff">mm</text>
<rect x="177.5" y="383.5" width="447" height="23" fill="#fff" stroke="#707070" stroke-width="1" shape-rendering="crispEdges"/>
<rect x="182" y="396.8" width="11.2" height="2" fill="#7cfc00"/>
<text x="202.5" y="400" font-size="10.67" letter-spacing="0.3" fill="#000">Dew Point / C</text>
<rect x="292" y="396.8" width="11.2" height="2" fill="#ffa500"/>
<text x="312.3" y="400" font-size="10.67" letter-spacing="0.5" fill="#000">Temperature / C</text>
<rect x="419.8" y="396.8" width="11.2" height="2" fill="#006400"/>
<text x="440.4" y="400" font-size="10.67" letter-spacing="0.15" fill="#000">Humidity / %</text>
<rect x="524.8" y="396.8" width="11.2" height="2" fill="#0000ff"/>
<text x="545.6" y="400" font-size="10.67" letter-spacing="0.3" fill="#000">Rainfall / mm</text>
<text x="268.2" y="442" font-size="10.67" letter-spacing="0.35" fill="#000">Graph for: 30th April 2025; Load time: 0.08 s</text>
</svg>
</body></html>
